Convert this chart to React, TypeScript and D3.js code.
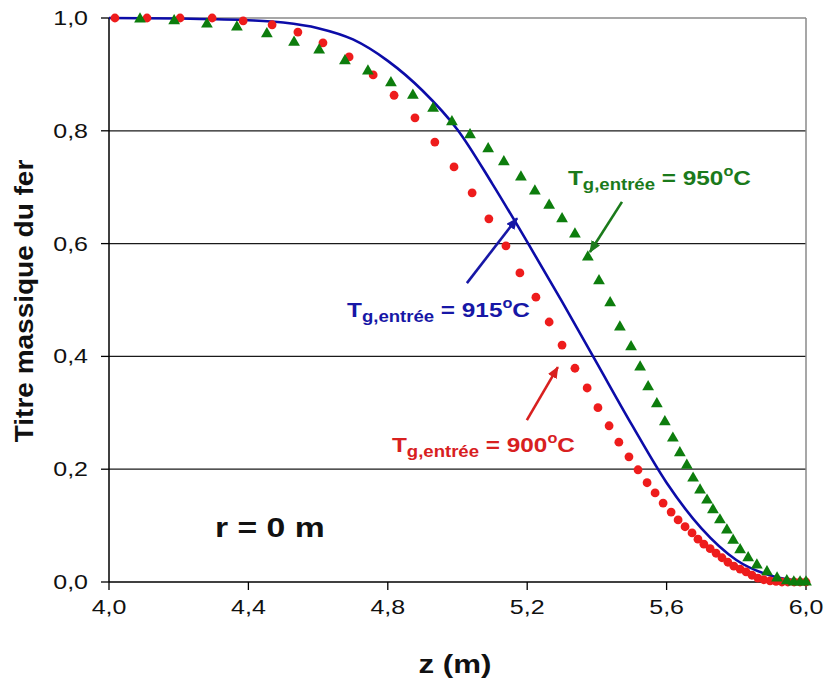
import React from "react";
import * as d3 from "d3";

// ---------- data ----------
const xTicks = [4.0, 4.4, 4.8, 5.2, 5.6, 6.0];
const yTicks = [0, 0.2, 0.4, 0.6, 0.8, 1.0];

// T = 915 °C (solid blue line)
const blueZ = [4.0, 4.2, 4.4, 4.5, 4.6, 4.7, 4.8, 4.9, 5.0, 5.1, 5.2, 5.3, 5.4, 5.5, 5.6, 5.7, 5.8, 5.9, 6.0];
const blueV = [1.0, 0.999, 0.996, 0.992, 0.982, 0.962, 0.924, 0.871, 0.802, 0.706, 0.603, 0.497, 0.388, 0.279, 0.176, 0.095, 0.039, 0.011, 0.001];

// T = 900 °C (red dots)
const redZ = [4.017, 4.109, 4.204, 4.296, 4.385, 4.468, 4.542, 4.614, 4.689, 4.758, 4.818, 4.878, 4.935, 4.99, 5.042, 5.09, 5.139, 5.179, 5.225, 5.263, 5.3, 5.337, 5.372, 5.403, 5.435, 5.463, 5.492, 5.518, 5.544, 5.567, 5.59, 5.613, 5.633, 5.653, 5.673, 5.69, 5.707, 5.725, 5.742, 5.759, 5.776, 5.793, 5.811, 5.828, 5.845, 5.862, 5.879, 5.897, 5.914, 5.931, 5.948, 5.966, 5.983, 6.0];
const redV = [1.0, 1.0, 1.0, 1.0, 0.995, 0.988, 0.975, 0.956, 0.931, 0.899, 0.863, 0.823, 0.78, 0.736, 0.69, 0.644, 0.596, 0.548, 0.505, 0.461, 0.42, 0.379, 0.344, 0.309, 0.277, 0.248, 0.222, 0.199, 0.176, 0.158, 0.14, 0.124, 0.11, 0.098, 0.087, 0.076, 0.067, 0.059, 0.051, 0.043, 0.035, 0.028, 0.023, 0.018, 0.012, 0.007, 0.004, 0.002, 0.001, 0.0, 0.0, 0.0, 0.0, 0.0];

// T = 950 °C (green triangles)
const greenZ = [4.089, 4.187, 4.281, 4.367, 4.453, 4.531, 4.603, 4.677, 4.743, 4.809, 4.872, 4.93, 4.984, 5.036, 5.088, 5.133, 5.182, 5.222, 5.263, 5.3, 5.337, 5.374, 5.406, 5.438, 5.466, 5.498, 5.524, 5.547, 5.572, 5.595, 5.618, 5.638, 5.658, 5.676, 5.696, 5.716, 5.733, 5.753, 5.773, 5.791, 5.811, 5.834, 5.859, 5.888, 5.917, 5.945, 5.965, 5.983, 6.0];
const greenV = [0.998, 0.995, 0.989, 0.984, 0.972, 0.957, 0.943, 0.924, 0.906, 0.885, 0.863, 0.84, 0.816, 0.793, 0.768, 0.745, 0.718, 0.693, 0.668, 0.644, 0.617, 0.576, 0.534, 0.495, 0.452, 0.417, 0.381, 0.346, 0.316, 0.284, 0.255, 0.229, 0.207, 0.184, 0.163, 0.145, 0.128, 0.11, 0.092, 0.074, 0.057, 0.043, 0.03, 0.018, 0.007, 0.002, 0.0, 0.0, 0.0];

// annotations (in data units)
const labels = [
  { temp: "950", color: "#1b7a1b", z: 5.317, v: 0.704, from: [5.472, 0.674], to: [5.38, 0.585] },
  { temp: "915", color: "#1717a6", z: 4.683, v: 0.47, from: [5.027, 0.53], to: [5.171, 0.645] },
  { temp: "900", color: "#d8201f", z: 4.812, v: 0.23, from: [5.199, 0.287], to: [5.288, 0.381] },
];

const W = 826;
const H = 686;
const FONT = "Arial, 'Liberation Sans', Helvetica, sans-serif";

export default function App() {
  const x = d3.scaleLinear().domain([4, 6]).range([109, 806]);
  const y = d3.scaleLinear().domain([0, 1]).range([582, 18]);
  const fmt = (v: number) => d3.format(".1f")(v).replace(".", ",");

  const blueData = blueZ.map((z, i) => [z, blueV[i]] as [number, number]);
  const line = d3
    .line<[number, number]>()
    .x((d) => x(d[0]))
    .y((d) => y(d[1]))
    .curve(d3.curveMonotoneX);

  const tri = d3.symbol().type(d3.symbolTriangle).size(60)();

  const x0 = x(4), x1 = x(6), y0 = y(0), y1 = y(1);

  return (
    <svg
      width={W}
      height={H}
      style={{ position: "absolute", left: 0, top: 0, background: "#fff" }}
      fontFamily={FONT}
    >
      <defs>
        {labels.map((l) => (
          <marker
            key={l.temp}
            id={`ah${l.temp}`}
            markerUnits="userSpaceOnUse"
            markerWidth={12}
            markerHeight={10}
            refX={11}
            refY={5}
            orient="auto"
          >
            <path d="M0,0 L12,5 L0,10 z" fill={l.color} />
          </marker>
        ))}
      </defs>
      <rect x={0} y={0} width={W} height={H} fill="#fff" />

      {/* gridlines */}
      {yTicks.filter((t) => t > 0 && t < 1).map((t) => (
        <line key={t} x1={x0} x2={x1} y1={y(t)} y2={y(t)} stroke="#1a1a1a" strokeWidth={1.3} />
      ))}
      {/* frame top & right */}
      <line x1={x0} x2={x1} y1={y1} y2={y1} stroke="#8a8a8a" strokeWidth={1.5} />
      <line x1={x1} x2={x1} y1={y1} y2={y0} stroke="#8a8a8a" strokeWidth={1.5} />

      {/* axes */}
      <line x1={x0} x2={x0} y1={y1} y2={y0} stroke="#000" strokeWidth={1.5} />
      <line x1={x0} x2={x1} y1={y0} y2={y0} stroke="#000" strokeWidth={1.5} />
      {yTicks.map((t) => (
        <g key={t}>
          <line x1={x0 - 8} x2={x0} y1={y(t)} y2={y(t)} stroke="#000" strokeWidth={1.3} />
          <g transform={`translate(88,${y(t) + 7}) scale(1.25,1)`}>
            <text textAnchor="end" fontSize={20} fill="#111">{fmt(t)}</text>
          </g>
        </g>
      ))}
      {xTicks.map((t) => (
        <g key={t}>
          <line x1={x(t)} x2={x(t)} y1={y0} y2={y0 + 8} stroke="#000" strokeWidth={1.3} />
          <g transform={`translate(${x(t)},614) scale(1.25,1)`}>
            <text textAnchor="middle" fontSize={20} fill="#111">{fmt(t)}</text>
          </g>
        </g>
      ))}

      {/* axis titles */}
      <g transform={`translate(455,673) scale(1.25,1)`}>
        <text textAnchor="middle" fontSize={25} fontWeight="bold" fill="#111">z (m)</text>
      </g>
      <g transform={`translate(33,301) rotate(-90) scale(1.12,1)`}>
        <text textAnchor="middle" fontSize={25} fontWeight="bold" fill="#111">Titre massique du fer</text>
      </g>

      {/* blue line */}
      <path d={line(blueData) || ""} fill="none" stroke="#0c0ca8" strokeWidth={2.6} />

      {/* red dots */}
      {redZ.map((z, i) => (
        <circle key={i} cx={x(z)} cy={y(redV[i])} r={4.4} fill="#ee1c1c" />
      ))}

      {/* green triangles */}
      {greenZ.map((z, i) => (
        <path key={i} d={tri || ""} transform={`translate(${x(z)},${y(greenV[i])})`} fill="#0d7d0d" />
      ))}

      {/* annotations */}
      {labels.map((l) => (
        <g key={l.temp}>
          <line
            x1={x(l.from[0])}
            y1={y(l.from[1])}
            x2={x(l.to[0])}
            y2={y(l.to[1])}
            stroke={l.color}
            strokeWidth={2.6}
            markerEnd={`url(#ah${l.temp})`}
          />
          <g transform={`translate(${x(l.z)},${y(l.v)}) scale(1.16,1)`}>
            <text fill={l.color} fontWeight="bold" fontSize={21} style={{ whiteSpace: "pre" }}>
              T
              <tspan fontSize={16} dy={5}>g,entrée</tspan>
              <tspan fontSize={21} dy={-5}>{` = ${l.temp}`}</tspan>
              <tspan fontSize={14} dy={-9}>o</tspan>
              <tspan fontSize={21} dy={9}>C</tspan>
            </text>
          </g>
        </g>
      ))}

      <g transform={`translate(${x(4.304)},${y(0.08)}) scale(1.25,1)`}>
        <text fontSize={27} fontWeight="bold" fill="#111" style={{ whiteSpace: "pre" }}>r = 0 m</text>
      </g>
    </svg>
  );
}
